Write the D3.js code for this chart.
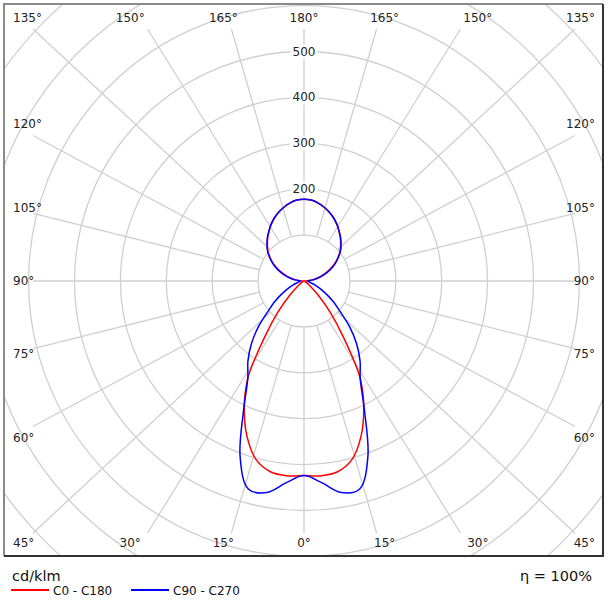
<!DOCTYPE html>
<html><head><meta charset="utf-8">
<script src="https://cdn.jsdelivr.net/npm/d3@7/dist/d3.min.js"></script>
<style>body{margin:0;background:#fff} svg{display:block}</style>
</head><body><svg id="c" width="608" height="609"></svg>
<script>
// ---- data ----
const gammaDeg = [0,5,10,15,20,25,30,35,40,45,50,55,60,65,70,75,80,85,90,
                  95,100,105,110,115,120,125,130,135,140,145,150,155,160,165,170,175,180];
const c0c180 = [424,426,422,403,362,308,245,150,88,44,20,8,3,1,0,0,0,1,2,
                11,24,37,50,64,78,91,103,113,123,133,143,152,160,167,173,177,178];
const c90c270 = [424,441,468,469,407,312,245,213,178,140,102,77,55,38,25,16,11,9,8,
                 14,26,39,53,67,80,92,104,114,124,133,143,152,160,167,173,177,178];
const ringValues = [100,200,300,400,500,600,700,800];
const ringLabelValues = [200,300,400,500];
const angleTicks = [0,15,30,45,60,75,90,105,120,135,150,165,180];
const seriesNames = ["C0 - C180","C90 - C270"];
const seriesColors = ["#ff0000","#0000ff"];
const unitLabel = "cd/klm";
const effLabel = "\u03b7 = 100%";

// ---- layout ----
const W = 608, H = 609;
const frame = {x0:4, y0:4, x1:603, y1:556};
const cx = 304, cy = 281;
const lineHW = 271, lineHH = 252;   // end of radial lines
const labHW = 301, labHH = 272;     // label anchors
const font = "'DejaVu Sans', Verdana, sans-serif";

const svg = d3.select("#c");
const r = d3.scaleLinear().domain([0,100]).range([0,45.9]);

svg.append("defs").append("clipPath").attr("id","fc")
  .append("rect").attr("x",frame.x0).attr("y",frame.y0)
  .attr("width",frame.x1-frame.x0).attr("height",frame.y1-frame.y0);

const grid = svg.append("g").attr("clip-path","url(#fc)");
const gridColor = "#cfcfcf";

// rings
grid.selectAll("circle.ring").data(ringValues).join("circle")
  .attr("class","ring").attr("cx",cx).attr("cy",cy).attr("r",d=>r(d))
  .attr("fill","none").attr("stroke",gridColor).attr("stroke-width",1.3);

// radial lines + angle labels
const spokes = [];
angleTicks.forEach(g=>{
  [1,-1].forEach(s=>{
    if(s===-1 && (g===0 || g===180)) return;
    const a = g*Math.PI/180;
    const dx = s*Math.sin(a), dy = Math.cos(a);
    const m = Math.max(Math.abs(dx),Math.abs(dy));
    spokes.push({g, s, ux:dx/m, uy:dy/m});
  });
});
spokes.forEach(d=>{
  const ex = cx + d.ux*lineHW, ey = cy + d.uy*lineHH;
  const len = Math.hypot(ex-cx, ey-cy);
  const r0 = r(100);
  grid.append("line")
    .attr("x1", cx + (ex-cx)/len*r0).attr("y1", cy + (ey-cy)/len*r0)
    .attr("x2", ex).attr("y2", ey)
    .attr("stroke",gridColor).attr("stroke-width",1.3);
});

// ring labels along 180° line
ringLabelValues.forEach(v=>{
  const y = cy - r(v);
  const t = svg.append("text").attr("x",cx).attr("y",y)
    .attr("text-anchor","middle").attr("dominant-baseline","central")
    .attr("font-family",font).attr("font-size",12).attr("fill","#222").text(v);
  const bb = t.node().getBBox();
  svg.insert("rect","text:last-of-type")
    .attr("x",bb.x-2).attr("y",bb.y).attr("width",bb.width+4).attr("height",bb.height)
    .attr("fill","#fff");
});

// angle labels
spokes.forEach(d=>{
  let x = cx + d.ux*labHW, y = cy + d.uy*labHH;
  const t = svg.append("text").attr("dominant-baseline","central")
    .attr("text-anchor","middle").attr("font-family",font).attr("font-size",12)
    .attr("fill","#222").text(d.g + "\u00b0");
  const w = t.node().getComputedTextLength();
  x = Math.max(13 + w/2, Math.min(595 - w/2, x));
  y = Math.max(18, Math.min(543, y));
  t.attr("x",x).attr("y",y);
});

// curves
function polarPoints(vals){
  const pts = [];
  gammaDeg.forEach((g,i)=>pts.push({a:Math.PI - g*Math.PI/180, v:vals[i]}));
  for(let i=gammaDeg.length-2;i>=1;i--) pts.push({a:Math.PI + gammaDeg[i]*Math.PI/180, v:vals[i]});
  return pts;
}
const radial = d3.lineRadial().angle(d=>d.a).radius(d=>r(d.v)).curve(d3.curveCatmullRomClosed.alpha(0.5));
[c0c180, c90c270].forEach((vals,i)=>{
  svg.append("path").attr("transform",`translate(${cx},${cy})`)
    .attr("d", radial(polarPoints(vals)))
    .attr("fill","none").attr("stroke",seriesColors[i]).attr("stroke-width",1.5);
});

// frame
svg.append("path").attr("d",`M${frame.x0},${frame.y1}V${frame.y0}H${frame.x1}`)
  .attr("fill","none").attr("stroke","#8a8a8a").attr("stroke-width",2);
svg.append("path").attr("d",`M${frame.x0},${frame.y1}H${frame.x1}V${frame.y0}`)
  .attr("fill","none").attr("stroke","#333").attr("stroke-width",2);

// legend
svg.append("text").attr("x",12).attr("y",581).attr("font-family",font).attr("font-size",14.5)
  .attr("fill","#111").text(unitLabel);
const legX = [11,131];
seriesNames.forEach((n,i)=>{
  svg.append("line").attr("x1",legX[i]).attr("x2",legX[i]+38).attr("y1",590).attr("y2",590)
    .attr("stroke",seriesColors[i]).attr("stroke-width",2);
  svg.append("text").attr("x",legX[i]+42).attr("y",591).attr("dominant-baseline","central")
    .attr("font-family",font).attr("font-size",12).attr("fill","#111").text(n);
});
svg.append("text").attr("x",592).attr("y",581).attr("text-anchor","end")
  .attr("font-family",font).attr("font-size",14.5).attr("fill","#111").text(effLabel);
</script></body></html>
